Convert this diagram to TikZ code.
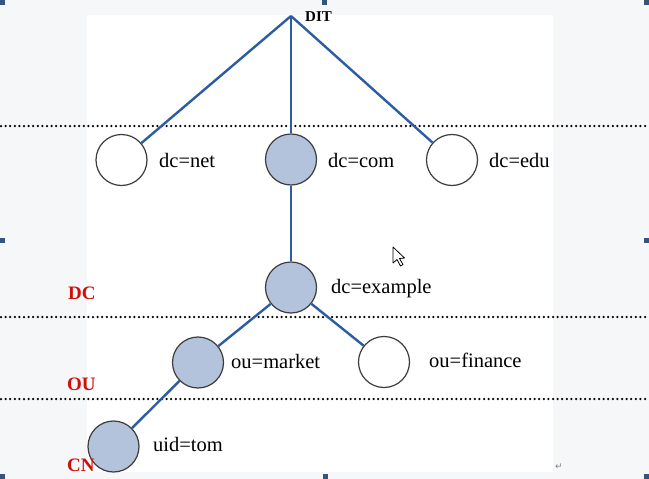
\documentclass[tikz,border=0pt]{standalone}
\usepackage{fontspec}
\setmainfont{Liberation Serif}
\newfontfamily\symfont{DejaVu Sans}
\usepackage{tikz}

\definecolor{treeblue}{RGB}{44,92,162}
\definecolor{entryfill}{RGB}{180,195,220}
\definecolor{ringgray}{RGB}{60,60,60}
\definecolor{levelred}{RGB}{208,16,8}
\definecolor{screengray}{RGB}{246,247,249}
\definecolor{handleblue}{RGB}{52,84,128}

\begin{document}
\begin{tikzpicture}[x=1pt, y=-1pt,
    entry/.style={draw=ringgray, line width=1.2pt, circle, fill=white, minimum size=51pt, inner sep=0pt},
    entryhit/.style={entry, fill=entryfill},
    entrytext/.style={anchor=base west, inner sep=0pt, font=\fontsize{20.5}{24}\selectfont},
    leveltext/.style={anchor=base west, inner sep=0pt, text=levelred, font=\fontsize{19}{21}\selectfont\bfseries},
    treeline/.style={draw=treeblue, line width=2.4pt},
    levelline/.style={line width=2.5pt, dash pattern=on 0pt off 4.6pt, line cap=round}]
                    % Screen and page
                    \useasboundingbox (0,0) rectangle (649,479);
                    \fill[screengray] (0,0) rectangle (649,479);
                    \fill[white] (87,15) rectangle (553,472);
                    \foreach \x/\y in {0/0, 322/0, 644/0, 0/238, 644/238, 0/474, 323/474, 644/474}
                    {
                        \fill[handleblue] (\x,\y) rectangle ++(5,5);
                    }

                    % Level separators
                    \foreach \y in {126, 317, 399}
                    {
                        \draw[levelline] (1,\y) -- (648,\y);
                    }

                    % Root
                    \coordinate (DIT) at (291,16);
                    \node[anchor=base west, inner sep=0pt, font=\fontsize{15}{17}\selectfont\bfseries] (DIT-label) at (305,21) {DIT};

                    % Entries
                    \node[entry]    (net)     at (121.5,160) {};
                    \node[entryhit] (com)     at (291,159.5) {};
                    \node[entry]    (edu)     at (452,160) {};
                    \node[entryhit] (example) at (291,287.5) {};
                    \node[entryhit] (market)  at (198,362.5) {};
                    \node[entry]    (finance) at (384,362) {};
                    \node[entryhit] (tom)     at (113.5,446.5) {};

                    % Entry names
                    \node[entrytext] (net-label)     at (159,167)   {dc=net};
                    \node[entrytext] (com-label)     at (328,167.5) {dc=com};
                    \node[entrytext] (edu-label)     at (489,167.5) {dc=edu};
                    \node[entrytext] (example-label) at (331,293)   {dc=example};
                    \node[entrytext] (market-label)  at (231,368)   {ou=market};
                    \node[entrytext] (finance-label) at (429,367.5) {ou=finance};
                    \node[entrytext] (tom-label)     at (153,451.5) {uid=tom};

                    % Level names
                    \node[leveltext] (DC) at (68,299) {DC};
                    \node[leveltext] (OU) at (67,390) {OU};
                    \node[leveltext] (CN) at (67,471) {CN};

                    % Tree connections
                    \foreach \n in {net, com, edu}
                    {
                        \draw[treeline] (DIT) -- (\n);
                    }
                    \draw[treeline] (com) -- (example);
                    \draw[treeline] (example) -- (market);
                    \draw[treeline] (example) -- (finance);
                    \draw[treeline] (market) -- (tom);

                    % Pointer and return mark
                    \draw[fill=white, line width=0.8pt, line join=round]
                        (393,247) -- (393,263) -- (397,259.5) -- (400.5,266) -- (403,264.5) -- (399.5,258.5) -- (404.5,258) -- cycle;
                    \node[anchor=base west, inner sep=0pt, text=gray, font=\symfont\fontsize{9}{10}\selectfont] (return-mark) at (555,469) {↵};
                \end{tikzpicture}
\end{document}
